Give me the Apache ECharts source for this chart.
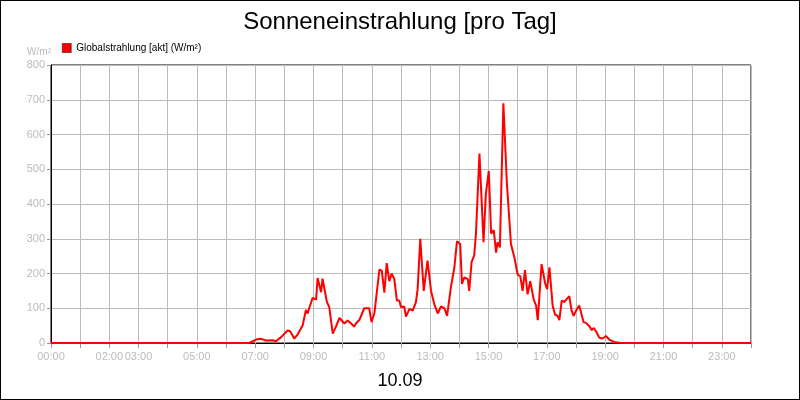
<!DOCTYPE html>
<html><head><meta charset="utf-8">
<script src="https://cdn.jsdelivr.net/npm/echarts@6/dist/echarts.min.js"></script>
<style>html,body{margin:0;padding:0;}#c{width:798px;height:398px;border:1px solid #000;}</style>
</head><body><div id="c"></div>
<script>
var hours = [0,6.8,7.03,7.2,7.37,7.6,7.71,7.89,8.11,8.2,8.34,8.46,8.51,8.63,8.74,8.8,8.86,8.97,9.09,9.14,9.2,9.26,9.31,9.37,9.46,9.54,9.66,9.77,9.89,9.94,10.06,10.17,10.29,10.4,10.46,10.57,10.63,10.74,10.91,10.99,11.09,11.26,11.34,11.43,11.51,11.6,11.68,11.77,11.86,11.94,12.0,12.11,12.17,12.29,12.4,12.51,12.57,12.66,12.78,12.91,13.03,13.14,13.26,13.37,13.49,13.58,13.71,13.83,13.92,14.03,14.09,14.17,14.29,14.34,14.42,14.51,14.57,14.69,14.83,14.91,15.01,15.09,15.18,15.26,15.31,15.39,15.51,15.63,15.77,15.89,16.0,16.09,16.17,16.25,16.34,16.43,16.55,16.63,16.69,16.82,16.94,17.01,17.09,17.2,17.28,17.37,17.43,17.51,17.6,17.68,17.77,17.85,17.92,18.0,18.11,18.26,18.34,18.46,18.54,18.61,18.69,18.8,18.91,19.03,19.14,19.31,19.49,19.7,24];
var values = [0,0,10,12,7,8,5,17,36,34,13,25,22,51,95,85,102,130,125,187,185,146,185,185,118,103,27,47,72,70,56,65,56,47,57,66,70,100,100,60,87,211,208,145,230,178,200,184,122,122,103,105,76,98,93,117,155,300,150,237,150,112,85,105,100,78,160,218,293,285,170,189,184,150,233,252,315,545,290,430,495,315,325,260,290,275,690,460,285,245,197,192,150,210,140,178,125,108,66,227,172,155,218,107,82,78,66,122,118,126,135,93,78,93,108,60,58,48,37,43,33,15,13,20,10,3,1,0,0];
var labelHours = [0,2,3,5,7,9,11,13,15,17,19,21,23];
var yTicks = [0,100,200,300,400,500,600,700,800];
var data = hours.map(function(h,i){return [h, values[i]];});
function pad(n){return (n<10?'0':'')+n+':00';}
var chart = echarts.init(document.getElementById('c'));
chart.setOption({
  animation:false,
  backgroundColor:'#fff',
  title:[{text:'Sonneneinstrahlung [pro Tag]',left:'center',top:4,textStyle:{fontFamily:'Liberation Sans',fontSize:24,fontWeight:'normal',color:'#000'}},
         {text:'10.09',left:'center',top:366,textStyle:{fontFamily:'Liberation Sans',fontSize:18,fontWeight:'normal',color:'#000'}}],
  legend:{left:56,top:37,itemWidth:9,itemHeight:9,icon:'rect',itemGap:4,
    textStyle:{fontFamily:'Liberation Sans',fontSize:10,color:'#000'},
    data:[{name:'Globalstrahlung [akt] (W/m²)',itemStyle:{color:'#ff0000',borderColor:'#000',borderWidth:0.5}}]},
  grid:{left:50,right:48,top:64,bottom:56,show:true,borderColor:'#000',borderWidth:1},
  xAxis:{type:'value',min:0,max:24,interval:1,
    axisLine:{show:true,lineStyle:{color:'#000'}},
    axisTick:{show:true,lineStyle:{color:'#999'}},
    splitLine:{show:true,lineStyle:{color:'#bbb'}},
    axisLabel:{color:'#bbb',fontFamily:'Liberation Sans',fontSize:11,
      formatter:function(v){return labelHours.indexOf(v)>=0?pad(v):'';}}},
  yAxis:{type:'value',min:0,max:800,interval:100,name:'W/m²',
    nameLocation:'end',nameGap:8,nameTextStyle:{color:'#bbb',fontFamily:'Liberation Sans',fontSize:10,align:'right'},
    axisLine:{show:true,lineStyle:{color:'#000'}},
    axisTick:{show:true,length:4,lineStyle:{color:'#999'}},
    splitLine:{show:true,lineStyle:{color:'#bbb'}},
    axisLabel:{color:'#bbb',fontFamily:'Liberation Sans',fontSize:11,margin:6,
      formatter:function(v){return yTicks.indexOf(v)>=0?String(v):'';}}},
  series:[{name:'Globalstrahlung [akt] (W/m²)',type:'line',data:data,symbol:'none',
    lineStyle:{color:'#ff0000',width:2},itemStyle:{color:'#ff0000'}}]
});
</script></body></html>
